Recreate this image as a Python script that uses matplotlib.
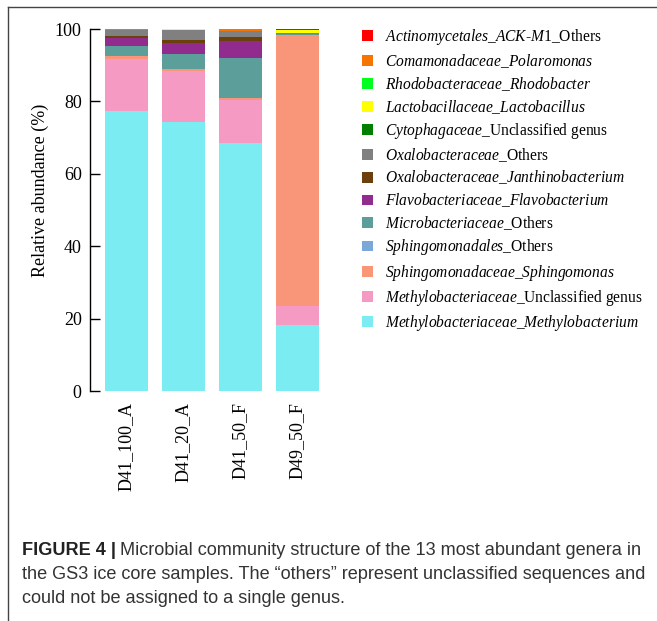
import matplotlib
matplotlib.use('Agg')
import matplotlib.pyplot as plt
import numpy as np
from matplotlib.lines import Line2D
from matplotlib.patches import Patch

plt.rcParams['font.family'] = 'Liberation Serif'
plt.rcParams['mathtext.fontset'] = 'custom'
plt.rcParams['mathtext.rm'] = 'Liberation Serif'
plt.rcParams['mathtext.it'] = 'Liberation Serif:italic'

# samples
samples = ['D41_100_A', 'D41_20_A', 'D41_50_F', 'D49_50_F']

# relative abundance (%), stacked from bottom to top
methylobacterium = [77.3, 74.4, 68.4, 18.2]
methylo_unclassified = [14.4, 14.0, 12.0, 5.3]
sphingomonas = [0.8, 0.5, 0.5, 74.8]
sphingomonadales_others = [0.1, 0.1, 0.1, 0.1]
microbacteriaceae_others = [2.6, 4.0, 11.1, 0.1]
flavobacterium = [2.2, 3.1, 4.7, 0.1]
janthinobacterium = [0.6, 0.9, 1.1, 0.0]
oxalobacteraceae_others = [1.7, 2.6, 1.6, 0.4]
cytophagaceae = [0.0, 0.2, 0.0, 0.0]
lactobacillus = [0.0, 0.1, 0.0, 0.6]
rhodobacter = [0.0, 0.0, 0.0, 0.0]
polaromonas = [0.3, 0.1, 0.5, 0.1]
actinomycetales = [0.0, 0.0, 0.0, 0.3]

series = [
    (methylobacterium, r'$\mathit{Methylobacteriaceae\_Methylobacterium}$', '#7aecf2'),
    (methylo_unclassified, r'$\mathit{Methylobacteriaceae}$_Unclassified genus', '#f59ac3'),
    (sphingomonas, r'$\mathit{Sphingomonadaceae\_Sphingomonas}$', '#f9967a'),
    (sphingomonadales_others, r'$\mathit{Sphingomonadales}$_Others', '#7ba7d9'),
    (microbacteriaceae_others, r'$\mathit{Microbacteriaceae}$_Others', '#5b9e9a'),
    (flavobacterium, r'$\mathit{Flavobacteriaceae\_Flavobacterium}$', '#922b8e'),
    (janthinobacterium, r'$\mathit{Oxalobacteraceae\_Janthinobacterium}$', '#6b400c'),
    (oxalobacteraceae_others, r'$\mathit{Oxalobacteraceae}$_Others', '#808080'),
    (cytophagaceae, r'$\mathit{Cytophagaceae}$_Unclassified genus', '#007f00'),
    (lactobacillus, r'$\mathit{Lactobacillaceae\_Lactobacillus}$', '#ffff00'),
    (rhodobacter, r'$\mathit{Rhodobacteraceae\_Rhodobacter}$', '#00ff1e'),
    (polaromonas, r'$\mathit{Comamonadaceae\_Polaromonas}$', '#f57500'),
    (actinomycetales, r'$\mathit{Actinomycetales\_ACK}$-$\mathit{M}$1_Others', '#ff0000'),
]

fig = plt.figure(figsize=(6.57, 6.21), dpi=100)
ax = fig.add_axes([90 / 657, 1 - 391 / 621, 236 / 657, 362 / 621])

x = np.arange(len(samples))
bottom = np.zeros(len(samples))
handles = []
for vals, label, color in series:
    ax.bar(x, vals, width=0.75, bottom=bottom, color=color, linewidth=0)
    bottom += np.array(vals)
    handles.append(Patch(facecolor=color, label=label))

ax.set_xlim(-0.64, 3.5)
ax.set_ylim(0, 100)
ax.set_yticks([0, 20, 40, 60, 80, 100])
ax.set_xticks(x)
ax.set_xticklabels(samples, rotation=90, fontsize=13)
ax.tick_params(axis='y', direction='in', length=7, labelsize=13, pad=6, width=1)
ax.tick_params(axis='x', length=0, pad=8)
for s in ['top', 'right', 'bottom']:
    ax.spines[s].set_visible(False)
ax.spines['left'].set_linewidth(1)

fig.text(40 / 657, 1 - 190 / 621, 'Relative abundance (%)', rotation=90,
         ha='center', va='center', fontsize=13)

leg = ax.legend(handles=handles[::-1], loc='upper left',
                bbox_to_anchor=(362 / 657, 1 - 27 / 621), bbox_transform=fig.transFigure,
                frameon=False, fontsize=11.2, borderpad=0, borderaxespad=0,
                handlelength=0.7, handleheight=0.7, handletextpad=0.8,
                labelspacing=0.33)

# figure frame (top and left edges)
fig.add_artist(Line2D([8 / 657, 8 / 657], [0, 1 - 7 / 621], color='#444444', lw=1))
fig.add_artist(Line2D([8 / 657, 1], [1 - 7 / 621, 1 - 7 / 621], color='#444444', lw=1))

# caption
cap_font = 'Liberation Sans'
cap_size = 13.1
t1 = fig.text(22 / 657, 1 - 555 / 621, 'FIGURE 4 |', family=cap_font, fontsize=cap_size,
              weight='bold', color='#222222', va='baseline')
fig.canvas.draw()
bb = t1.get_window_extent()
fig.text(bb.x1 / 657 + 4 / 657, 1 - 555 / 621,
         'Microbial community structure of the 13 most abundant genera in',
         family=cap_font, fontsize=cap_size, color='#333333', va='baseline')
fig.text(22 / 657, 1 - 579 / 621,
         'the GS3 ice core samples. The \u201cothers\u201d represent unclassified sequences and',
         family=cap_font, fontsize=cap_size, color='#333333', va='baseline')
fig.text(22 / 657, 1 - 603 / 621, 'could not be assigned to a single genus.',
         family=cap_font, fontsize=cap_size, color='#333333', va='baseline')

fig.savefig('out.png', dpi=100)
